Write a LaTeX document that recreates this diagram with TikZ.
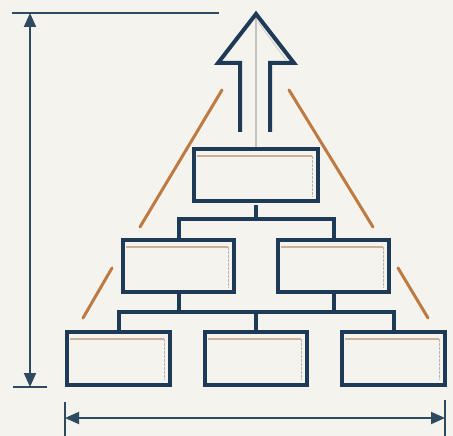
\documentclass[tikz,border=0pt]{standalone}
\usetikzlibrary{arrows.meta,calc}
\definecolor{bg}{HTML}{F4F3EE}
\definecolor{navy}{HTML}{1F3A56}
\definecolor{dimc}{HTML}{2E4A5E}
\definecolor{orng}{HTML}{BF7A42}
\definecolor{tan}{HTML}{CDB096}
\definecolor{lgray}{HTML}{B8B4AC}
\tikzset{
  box/.style={draw=navy, line width=4.5pt, fill=bg, rectangle, inner sep=0pt},
  conn/.style={draw=navy, line width=4pt},
  dimline/.style={draw=dimc, line width=2pt},
  dimarrow/.style={dimline, {Triangle[length=14pt,width=12pt]}-{Triangle[length=14pt,width=12pt]}},
  slope/.style={draw=orng, line width=3pt, line cap=round},
  innerline/.style={draw=tan, line width=1.5pt},
  innervert/.style={draw=lgray, line width=1.5pt, dash pattern=on 3pt off 1pt}
}
\newcommand{\boxdeco}[1]{%
  \draw[innerline] ([xshift=5pt,yshift=-9pt]#1.north west) -- ([xshift=-8pt,yshift=-9pt]#1.north east);
  \draw[innervert] ([xshift=-8pt,yshift=-9pt]#1.north east) -- ([xshift=-8pt,yshift=7pt]#1.south east);
}
\begin{document}
\begin{tikzpicture}[x=1pt,y=-1pt]
\fill[bg] (0,0) rectangle (453,436);
\useasboundingbox (0,0) rectangle (453,436);

% slope lines
\draw[slope] (222,90) -- (140,227);
\draw[slope] (112,268) -- (83,318);
\draw[slope] (289,90) -- (373,227);
\draw[slope] (398,268) -- (428,318);

% arrow
\coordinate (tip) at (256,14);
\draw[draw=lgray!80, line width=1.2pt] (tip) -- (256,147);
\draw[draw=lgray!60, line width=1pt] (258,22) -- (286,60);
\draw[draw=navy, line width=4pt, line join=miter]
  (240,132) -- (240,63) -- (218,63) -- (tip) -- (294,63) -- (270,63) -- (270,132);

% boxes
\node[box, minimum width=124pt, minimum height=52pt] (top) at (256,175) {};
\node[box, minimum width=111pt, minimum height=52pt] (midL) at (178.5,266) {};
\node[box, minimum width=111pt, minimum height=52pt] (midR) at (333.5,266) {};
\node[box, minimum width=103pt, minimum height=53pt] (botL) at (118.5,358.5) {};
\node[box, minimum width=102pt, minimum height=53pt] (botC) at (256,358.5) {};
\node[box, minimum width=103pt, minimum height=53pt] (botR) at (393.5,358.5) {};

\boxdeco{top}
\boxdeco{midL}
\boxdeco{midR}
\boxdeco{botL}
\boxdeco{botC}
\boxdeco{botR}

% connectors
\coordinate (j1) at (256,219);
\draw[conn] ([yshift=-2pt]top.south) -- (j1);
\draw[conn] ([yshift=-2pt]midL.north) |- (j1) -| ([yshift=-2pt]midR.north);
\coordinate (j2) at (256,312);
\draw[conn] ([yshift=2pt]midL.south) -- (midL.south |- j2);
\draw[conn] ([yshift=2pt]midR.south) -- (midR.south |- j2);
\draw[conn] ([yshift=-2pt]botL.north) |- (j2) -| ([yshift=-2pt]botR.north);
\draw[conn] (j2) -- ([yshift=-2pt]botC.north);

% vertical dimension
\coordinate (vt) at (30,13);
\coordinate (vb) at (30,387);
\draw[dimline] (12,13) -- (219,13);
\draw[dimline] (13,387) -- (47,387);
\draw[dimarrow] (vt) -- (vb);

% horizontal dimension
\coordinate (hl) at (65,418);
\coordinate (hr) at (445,418);
\draw[dimline] (65,402) -- (65,436);
\draw[dimline] (445,400) -- (445,436);
\draw[dimarrow] (hl) -- (hr);
\end{tikzpicture}
\end{document}
